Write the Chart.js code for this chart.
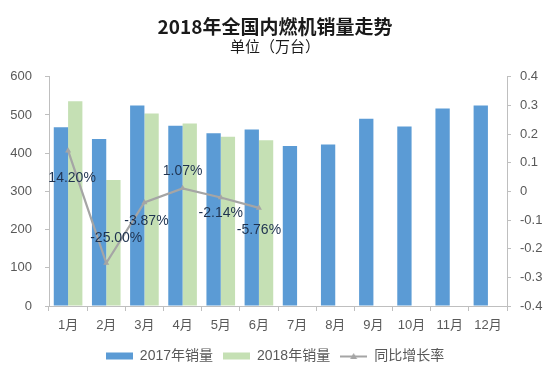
<!DOCTYPE html>
<html>
<head>
<meta charset="utf-8">
<script src="https://cdn.jsdelivr.net/npm/chart.js@4.4.1/dist/chart.umd.min.js"></script>
<style>
  html, body { margin: 0; padding: 0; background: #ffffff; }
  #wrap { width: 550px; height: 379px; position: relative; }
</style>
</head>
<body>
<div id="wrap"><canvas id="c" width="550" height="379"></canvas></div>
<script>
// ---- data ----
const months = ['1月','2月','3月','4月','5月','6月','7月','8月','9月','10月','11月','12月'];
const sales2017 = [468, 437, 525, 472, 452, 462, 419, 423, 490, 470, 517, 525];
const sales2018 = [536, 330, 504, 478, 443, 434];
const growthPct = [14.20, -25.00, -3.87, 1.07, -2.14, -5.76];
const seriesNames = ['2017年销量', '2018年销量', '同比增长率'];
const leftTicks = [0, 100, 200, 300, 400, 500, 600];
const rightTicks = [-0.4, -0.3, -0.2, -0.1, 0, 0.1, 0.2, 0.3, 0.4];

const BLUE = '#5B9BD5';
const GREEN = '#C5E0B4';
const GRAY = '#A5A5A5';
const TXT = '#595959';
const AXIS = '#BFBFBF';
const TICKFONT = "'Liberation Sans', 'Noto Sans CJK SC', sans-serif";

function legendSwatch(kind, color) {
  const c = document.createElement('canvas');
  c.width = 27; c.height = 10;
  const g = c.getContext('2d');
  if (kind === 'rect') {
    g.fillStyle = color;
    g.fillRect(0, 1.5, 27, 7);
  } else {
    g.strokeStyle = color; g.lineWidth = 2;
    g.beginPath(); g.moveTo(0, 5.5); g.lineTo(27, 5.5); g.stroke();
    g.fillStyle = color;
    g.beginPath(); g.moveTo(13.5, 2); g.lineTo(17, 8); g.lineTo(10, 8); g.closePath(); g.fill();
  }
  return c;
}
const swatches = [legendSwatch('rect', BLUE), legendSwatch('rect', GREEN), legendSwatch('line', GRAY)];

const valueLabels = {
  id: 'valueLabels',
  afterDatasetsDraw(chart, args, opts) {
    const meta = chart.getDatasetMeta(2);
    const ctx = chart.ctx;
    ctx.save();
    ctx.font = "14px 'Liberation Sans', sans-serif";
    ctx.fillStyle = opts.color;
    ctx.textAlign = 'center';
    ctx.textBaseline = 'middle';
    meta.data.forEach((pt, i) => {
      const off = opts.offsets[i] || [0, 20];
      ctx.fillText(growthPct[i].toFixed(2) + '%', pt.x + off[0], pt.y + off[1]);
    });
    ctx.restore();
  }
};

new Chart(document.getElementById('c'), {
  type: 'bar',
  data: {
    labels: months,
    datasets: [
      { label: seriesNames[0], data: sales2017, backgroundColor: BLUE, yAxisID: 'y', order: 2,
        categoryPercentage: 0.75, barPercentage: 1.0 },
      { label: seriesNames[1], data: sales2018, backgroundColor: GREEN, yAxisID: 'y', order: 2,
        categoryPercentage: 0.75, barPercentage: 1.0 },
      { type: 'line', label: seriesNames[2], data: growthPct.map(v => v / 100), yAxisID: 'y1', order: 0,
        borderColor: GRAY, backgroundColor: GRAY, borderWidth: 2.25, tension: 0,
        pointStyle: 'triangle', pointRadius: 3.5, pointBorderWidth: 0, pointBackgroundColor: GRAY }
    ]
  },
  options: {
    responsive: false,
    animation: false,
    layout: { padding: { top: 0, left: 0, right: 0, bottom: 6 } },
    plugins: {
      title: {
        display: true, text: '2018年全国内燃机销量走势', color: '#1a1a1a',
        font: { family: "'Noto Sans CJK SC', sans-serif", size: 19, weight: 'bold', lineHeight: 1.2 },
        padding: { top: 15, bottom: 1 }
      },
      subtitle: {
        display: true, text: '单位（万台）', color: '#1a1a1a',
        font: { family: "'Noto Sans CJK SC', serif", size: 15, weight: 'normal', lineHeight: 1.0 },
        padding: { top: 0, bottom: 23 }
      },
      legend: {
        position: 'bottom',
        labels: {
          usePointStyle: true, pointStyleWidth: 27, boxHeight: 10, padding: 10,
          color: TXT, font: { family: TICKFONT, size: 14 },
          generateLabels(chart) {
            return chart.data.datasets.map((ds, i) => ({
              text: ds.label, pointStyle: swatches[i], fillStyle: 'transparent',
              strokeStyle: 'transparent', lineWidth: 0, datasetIndex: i, hidden: false, fontColor: TXT
            }));
          }
        }
      },
      tooltip: { enabled: false },
      valueLabels: {
        color: '#1F3350',
        offsets: [[4, 27], [10, -25], [2, 19], [0, -17], [0, 16], [0, 22]]
      }
    },
    scales: {
      x: {
        grid: { display: true, drawOnChartArea: false, drawTicks: true, tickLength: 5, color: AXIS, offset: true },
        border: { display: true, color: AXIS },
        ticks: { color: TXT, font: { family: TICKFONT, size: 13 }, padding: 7, maxRotation: 0, autoSkip: false },
        afterFit(scale) { scale.height = 33; }
      },
      y: {
        position: 'left', min: 0, max: 600,
        afterBuildTicks(scale) { scale.ticks = leftTicks.map(v => ({ value: v })); },
        grid: { display: true, drawOnChartArea: false, drawTicks: true, tickLength: 4, color: AXIS },
        border: { display: true, color: AXIS },
        ticks: { color: TXT, font: { family: TICKFONT, size: 13 }, padding: 13 },
        afterFit(scale) { scale.width = 49; }
      },
      y1: {
        position: 'right', min: -0.4, max: 0.4,
        afterBuildTicks(scale) { scale.ticks = rightTicks.map(v => ({ value: v })); },
        grid: { display: true, drawOnChartArea: false, drawTicks: true, tickLength: 4, color: AXIS },
        border: { display: true, color: AXIS },
        ticks: { color: TXT, font: { family: TICKFONT, size: 13 }, padding: 9,
          callback: (v) => String(Math.round(v * 10) / 10) },
        afterFit(scale) { scale.width = 43; }
      }
    }
  },
  plugins: [valueLabels]
});
</script>
</body>
</html>
